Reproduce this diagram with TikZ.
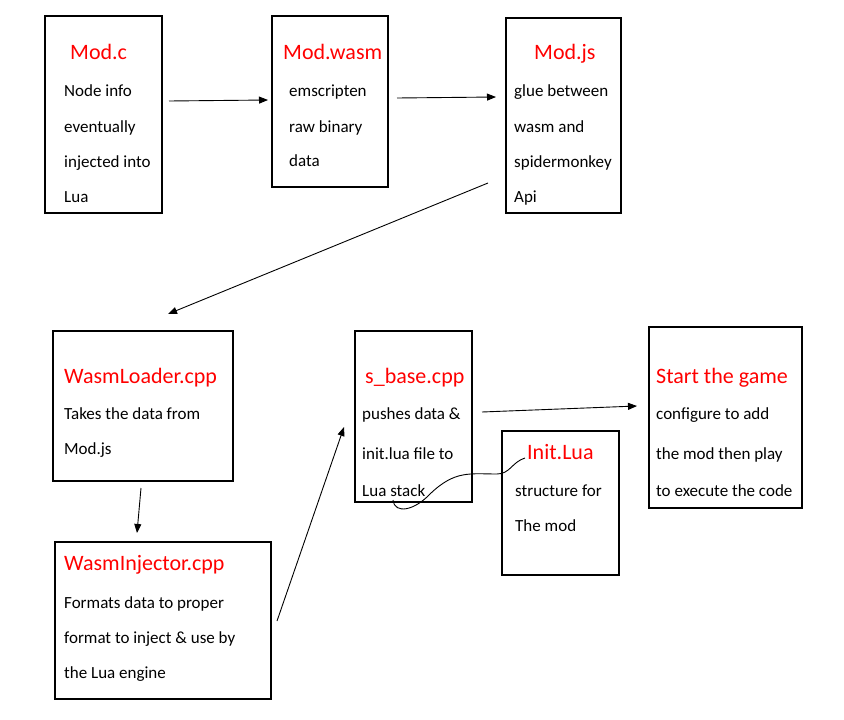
\documentclass[tikz,border=0pt]{standalone}
\usepackage{fontspec}
\setmainfont{Carlito}
\usetikzlibrary{arrows.meta,positioning}
\definecolor{titlered}{RGB}{255,0,0}

\begin{document}
\begin{tikzpicture}[x=1pt, y=-1pt,
    box/.style={rectangle, draw=black, line width=1.6pt, fill=white, inner sep=0pt},
    title/.style={anchor=base west, inner sep=0pt, text=titlered,
        font=\fontsize{22}{26}\selectfont},
    body/.style={anchor=base west, inner sep=0pt,
        font=\fontsize{17}{20}\selectfont},
    arrow/.style={-{Triangle[length=9pt, width=7pt]}, line width=0.9pt}
]
    \useasboundingbox (0,0) rectangle (844,720);

    % boxes
    \node[box, minimum width=117, minimum height=197] (modc) at (103.5,114.5) {};
    \node[box, minimum width=116, minimum height=171] (wasm) at (330,101.5) {};
    \node[box, minimum width=115, minimum height=195] (modjs) at (563.5,115.5) {};
    \node[box, minimum width=180, minimum height=150] (loader) at (143,406) {};
    \node[box, minimum width=117, minimum height=171] (sbase) at (413.5,416.5) {};
    \node[box, minimum width=153, minimum height=181] (game) at (725.5,417.5) {};
    \node[box, minimum width=117, minimum height=144] (initlua) at (560.5,503) {};
    \node[box, minimum width=216, minimum height=157] (injector) at (163,620.5) {};

    % texts
    \node[title] (modcT) at (70,59) {Mod.c};
    \node[body] (modc1) at (64,96) {Node info};
    \node[body] (modc2) at (64,132) {eventually};
    \node[body] (modc3) at (64,167) {injected into};
    \node[body] (modc4) at (64,202) {Lua};

    \node[title] (wasmT) at (283,59) {Mod.wasm};
    \node[body] (wasm1) at (289,96) {emscripten};
    \node[body] (wasm2) at (289,132) {raw binary};
    \node[body] (wasm3) at (289,166) {data};

    \node[title] (modjsT) at (534,59) {Mod.js};
    \node[body] (modjs1) at (514,96) {glue between};
    \node[body] (modjs2) at (514,132) {wasm and};
    \node[body] (modjs3) at (514,167) {spidermonkey};
    \node[body] (modjs4) at (514,202) {Api};

    \node[title] (loaderT) at (64,383) {WasmLoader.cpp};
    \node[body] (loader1) at (64,419) {Takes the data from};
    \node[body] (loader2) at (64,454) {Mod.js};

    \node[title] (sbaseT) at (365,383) {s\_base.cpp};
    \node[body] (sbase1) at (362,419) {pushes data \&};
    \node[body] (sbase2) at (362,459) {init.lua file to};
    \node[body] (sbase3) at (362,496) {Lua stack};

    \node[title] (gameT) at (656,383) {Start the game};
    \node[body] (game1) at (656,419) {configure to add};
    \node[body] (game2) at (656,459) {the mod then play};
    \node[body] (game3) at (656,496) {to execute the code};

    \node[title] (initluaT) at (527,459) {Init.Lua};
    \node[body] (initlua1) at (515,496) {structure for};
    \node[body] (initlua2) at (515,531) {The mod};

    \node[title] (injectorT) at (64,570) {WasmInjector.cpp};
    \node[body] (injector1) at (64,608) {Formats data to proper};
    \node[body] (injector2) at (64,643) {format to inject \& use by};
    \node[body] (injector3) at (64,678) {the Lua engine};

    % connector ends
    \coordinate (modcOut) at (169,101);
    \coordinate (wasmIn) at (268,100);
    \coordinate (wasmOut) at (397,98);
    \coordinate (modjsIn) at (496,97);
    \coordinate (modjsOut) at (488,183);
    \coordinate (loaderIn) at (168,314);
    \coordinate (loaderOut) at (141,488);
    \coordinate (injectorIn) at (137,533);
    \coordinate (injectorOut) at (277,621);
    \coordinate (sbaseIn) at (344,427);
    \coordinate (sbaseOut) at (482,412);
    \coordinate (gameIn) at (637,406);
    \coordinate (initluaOut) at (525,458);
    \coordinate (sbaseStack) at (393,500);

    \draw[arrow] (modcOut) -- (wasmIn);
    \draw[arrow] (wasmOut) -- (modjsIn);
    \draw[arrow] (modjsOut) -- (loaderIn);
    \draw[arrow] (loaderOut) -- (injectorIn);
    \draw[arrow] (injectorOut) -- (sbaseIn);
    \draw[arrow] (sbaseOut) -- (gameIn);
    \draw[line width=0.9pt] (initluaOut) .. controls (512,462) and (510,474) .. (497,474)
        .. controls (470,474) and (455,470) .. (430,494)
        .. controls (415,510) and (395,515) .. (sbaseStack);
\end{tikzpicture}
\end{document}
